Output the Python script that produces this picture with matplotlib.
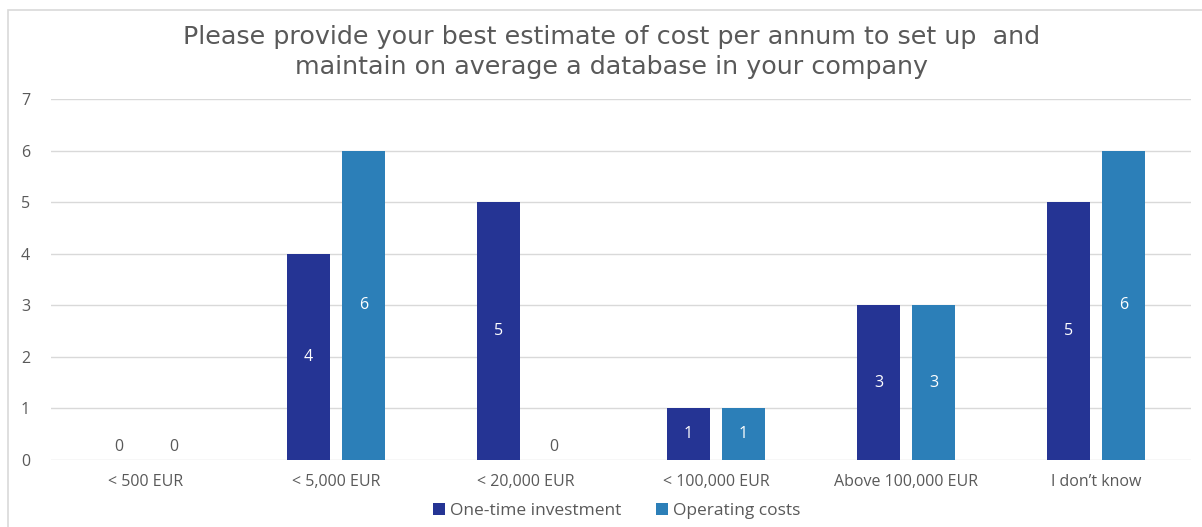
import numpy as np
import matplotlib.pyplot as plt
from matplotlib.patches import Rectangle

plt.rcParams['font.family'] = ['Open Sans', 'DejaVu Sans']

categories = ['< 500 EUR', '< 5,000 EUR', '< 20,000 EUR', '< 100,000 EUR',
              'Above 100,000 EUR', 'I don\u2019t know']
one_time = [0, 4, 5, 1, 3, 5]
operating = [0, 6, 0, 1, 3, 6]

dark = '#253494'
light = '#2c7fb8'
grey = '#595959'

fig = plt.figure(figsize=(12.02, 5.27), dpi=100)
fig.patches.append(Rectangle((8 / 1202, -0.1), 1.2, 1 - 10 / 527 + 0.1,
                             transform=fig.transFigure, fill=False,
                             edgecolor='#d9d9d9', linewidth=1.2))
ax = fig.add_axes([51 / 1202, 1 - 460 / 527, 1140 / 1202, 361 / 527])

x = np.arange(len(categories))
w = 0.226
off = 0.145
b1 = ax.bar(x - off, one_time, w, color=dark, label='One-time investment')
b2 = ax.bar(x + off, operating, w, color=light, label='Operating costs')

# value labels: white in the middle of the bar, grey just above the baseline for zeros
for bars, vals in ((b1, one_time), (b2, operating)):
    for rect, v in zip(bars, vals):
        cx = rect.get_x() + rect.get_width() / 2
        if v == 0:
            ax.text(cx, 0.25, str(v), ha='center', va='center', color=grey, fontsize=11.5)
        else:
            ax.text(cx, v / 2, str(v), ha='center', va='center', color='white', fontsize=11.5)

ax.set_xlim(-0.5, len(categories) - 0.5)
ax.set_ylim(0, 7)
ax.set_yticks(range(8))
ax.set_xticks(x)
ax.set_xticklabels(categories)
ax.tick_params(length=0, labelsize=11.5, labelcolor=grey)
ax.tick_params(axis='x', pad=10)
ax.tick_params(axis='y', pad=15)
ax.grid(axis='y', color='#d9d9d9', linewidth=1)
ax.set_axisbelow(True)
for s in ax.spines.values():
    s.set_visible(False)

fig.text(0.509, 1 - 52 / 527,
         'Please provide your best estimate of cost per annum to set up  and\nmaintain on average a database in your company',
         ha='center', va='center', fontsize=18.3, color=grey, linespacing=1.3,
         family=['DejaVu Sans'])

fig.legend(handles=[b1, b2], loc='center', bbox_to_anchor=(0.513, 1 - 511 / 527),
           ncol=2, frameon=False, fontsize=12.5, labelcolor=grey,
           handlelength=0.7, handleheight=0.7, handletextpad=0.3, columnspacing=2.0)

fig.savefig('out.png', dpi=100)
